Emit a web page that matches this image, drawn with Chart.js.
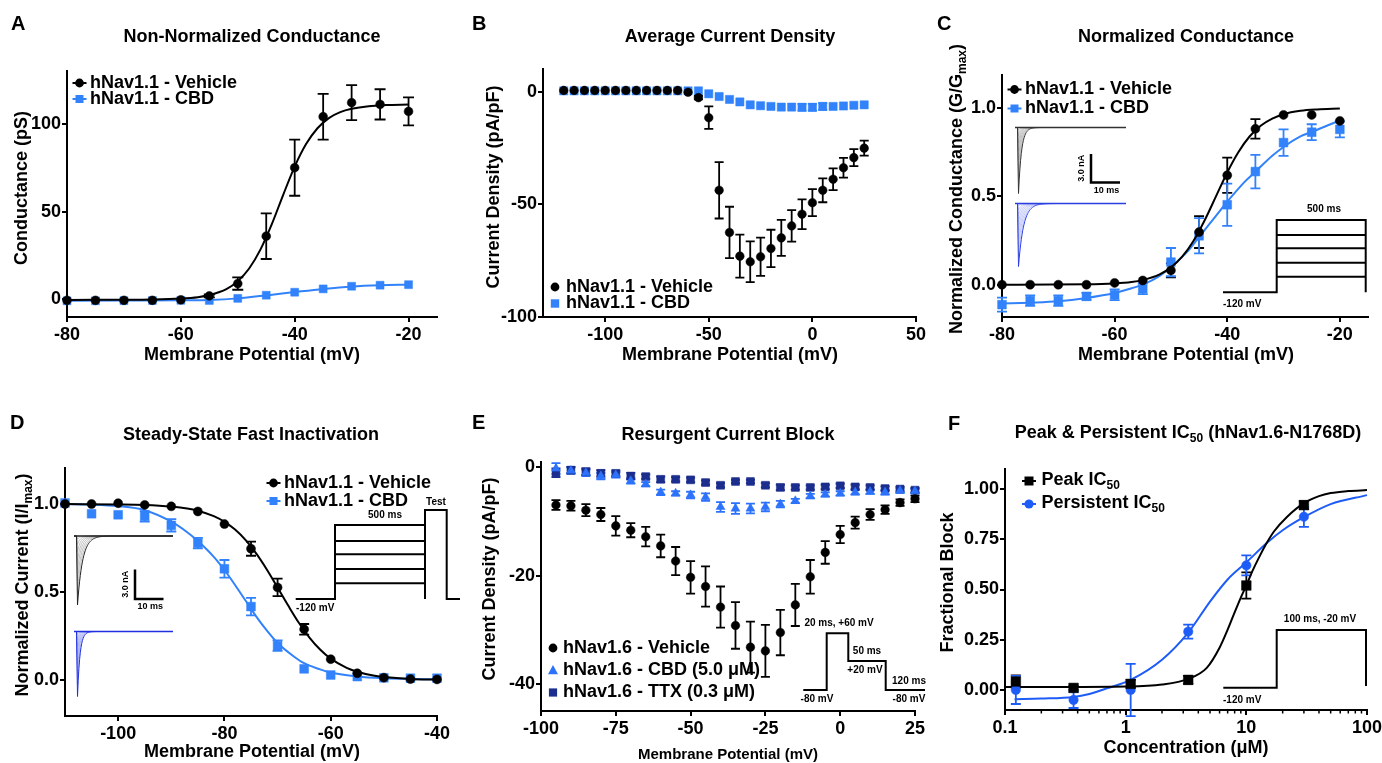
<!DOCTYPE html>
<html><head><meta charset="utf-8">
<script src="https://cdn.jsdelivr.net/npm/chart.js@4.4.1/dist/chart.umd.min.js"></script>
<style>
html,body{margin:0;padding:0;background:#fff;overflow:hidden;width:1382px;height:763px;}
canvas{position:absolute;left:0;top:0;}
</style></head><body>
<canvas id="cA" width="1420" height="763"></canvas>
<canvas id="cB" width="1420" height="763"></canvas>
<canvas id="cC" width="1420" height="763"></canvas>
<canvas id="cD" width="1420" height="763"></canvas>
<canvas id="cE" width="1420" height="763"></canvas>
<canvas id="cF" width="1420" height="763"></canvas>
<script>
// ---------------- DATA ----------------
// Panel A: Non-normalized conductance
const A_X = [-80,-75,-70,-65,-60,-55,-50,-45,-40,-35,-30,-25,-20];
const A_VEH = [-0.5,-0.5,-0.5,-0.5,-0.2,2,9,36,75,104,112,111,107];
const A_VEH_ERR = [0,0,0,0,0,0.8,3.5,13,16,13,10,8.6,8];
const A_CBD = [-0.8,-0.8,-0.7,-0.6,-0.5,-0.6,0.6,2.4,4.1,6.0,7.5,8.1,8.4];
const A_FIT_VEH_X = [-80,-65,-60,-57,-55,-52,-50,-48,-46,-44,-42,-40,-38,-36,-34,-32,-30,-27,-24,-20];
const A_FIT_VEH_Y = [-0.3,0,0.5,1.3,2.5,5.9,10.4,17.6,28.5,43,59.7,75.6,88.4,97.4,103.2,106.6,108.5,110,110.6,110.9];
const A_FIT_CBD_X = [-80,-70,-60,-55,-50,-45,-40,-35,-30,-25,-20];
const A_FIT_CBD_Y = [-0.7,-0.6,-0.5,-0.3,0.6,2.3,4.2,6.0,7.4,8.1,8.4];
const A_XTICKS = [-80,-60,-40,-20], A_XLAB = ['-80','-60','-40','-20'];
const A_YTICKS = [0,50,100], A_YLAB = ['0','50','100'];

// Panel B: Average current density
const B_X = [-120,-115,-110,-105,-100,-95,-90,-85,-80,-75,-70,-65,-60,-55,-50,-45,-40,-35,-30,-25,-20,-15,-10,-5,0,5,10,15,20,25];
const B_VEH = [0.5,0.5,0.5,0.5,0.5,0.5,0.5,0.5,0.5,0.5,0.5,0.5,-0.3,-2.7,-11.6,-43.8,-62.5,-73,-75.5,-73.3,-69.6,-64.9,-59.6,-54.4,-49.3,-43.8,-38.9,-33.8,-29.3,-25.1];
const B_VEH_ERR = [0,0,0,0,0,0,0,0,0,0,0,0,0,0.8,5,12.5,11.4,9.5,9,8.5,8.3,8,7,6.6,6,5.3,4.8,4.4,3.8,3.3];
const B_CBD = [0.3,0.3,0.3,0.3,0.3,0.3,0.3,0.3,0.3,0.3,0.3,0.3,0.3,0.3,-1.0,-2.2,-3.5,-4.6,-5.9,-6.3,-6.6,-6.9,-6.9,-7.0,-7.0,-6.6,-6.6,-6.4,-6.1,-5.9];
const B_CBD_ERR = [0,0,0,0,0,0,0,0,0,0,0,0,0,0,0,0,0,0,0,0,0,0,0,1.5,1.5,1.5,0,0,0,0];
const B_XTICKS = [-100,-50,0,50], B_XLAB = ['-100','-50','0','50'];
const B_YTICKS = [-100,-50,0], B_YLAB = ['-100','-50','0'];

// Panel C: Normalized conductance
const C_X = [-80,-75,-70,-65,-60,-55,-50,-45,-40,-35,-30,-25,-20];
const C_VEH = [0,0,0,0,0.01,0.024,0.081,0.298,0.62,0.883,0.962,0.962,0.928];
const C_VEH_ERR = [0,0,0,0,0,0,0.04,0.09,0.1,0.055,0,0,0];
const C_CBD = [-0.113,-0.09,-0.09,-0.066,-0.057,-0.023,0.128,0.277,0.453,0.641,0.805,0.864,0.88];
const C_CBD_ERR = [0.04,0.03,0.03,0.02,0.03,0.03,0.08,0.1,0.12,0.095,0.075,0.045,0.045];
const C_FIT_VEH_X = [-80,-65,-60,-57,-55,-52,-50,-48,-46,-44,-42,-40,-38,-36,-34,-32,-30,-27,-24,-20];
const C_FIT_VEH_Y = [0,0.002,0.007,0.015,0.026,0.058,0.098,0.159,0.248,0.365,0.5,0.636,0.752,0.841,0.902,0.941,0.966,0.985,0.993,0.998];
const C_FIT_CBD_X = [-80,-75,-70,-65,-60,-57,-55,-52,-50,-47,-45,-42,-40,-37,-35,-32,-30,-27,-25,-22,-20];
const C_FIT_CBD_Y = [-0.107,-0.102,-0.094,-0.075,-0.047,-0.02,0.0,0.05,0.1,0.19,0.27,0.39,0.47,0.58,0.64,0.73,0.78,0.84,0.865,0.905,0.93];
const C_XTICKS = [-80,-60,-40,-20], C_XLAB = ['-80','-60','-40','-20'];
const C_YTICKS = [0,0.5,1], C_YLAB = ['0.0','0.5','1.0'];

// Panel D: Steady-state fast inactivation
const D_X = [-110,-105,-100,-95,-90,-85,-80,-75,-70,-65,-60,-55,-50,-45,-40];
const D_VEH = [1.0,1.0,1.005,0.995,0.987,0.958,0.886,0.746,0.526,0.288,0.118,0.038,0.013,0.005,0.003];
const D_VEH_ERR = [0,0,0,0,0,0,0,0.04,0.05,0.03,0,0,0,0,0];
const D_CBD = [1.006,0.945,0.939,0.93,0.879,0.778,0.632,0.417,0.195,0.063,0.028,0.019,0.012,0.01,0.01];
const D_CBD_ERR = [0,0,0,0.03,0.035,0.03,0.05,0.05,0.03,0,0,0,0,0,0];
const D_FIT_VEH_X = [-110,-100,-95,-90,-87,-85,-82,-80,-78,-76,-74,-72,-70,-68,-66,-64,-62,-60,-57,-55,-52,-50,-45,-40];
const D_FIT_VEH_Y = [1.0,0.998,0.995,0.986,0.975,0.962,0.931,0.899,0.855,0.795,0.718,0.627,0.526,0.423,0.325,0.241,0.173,0.121,0.069,0.047,0.025,0.017,0.006,0.002];
const D_FIT_CBD_X = [-110,-105,-100,-95,-90,-87,-85,-82,-80,-78,-76,-74,-72,-70,-67,-65,-62,-60,-55,-50,-45,-40];
const D_FIT_CBD_Y = [1.0,0.997,0.988,0.965,0.9,0.84,0.79,0.7,0.625,0.54,0.45,0.36,0.28,0.21,0.135,0.095,0.06,0.042,0.02,0.01,0.006,0.004];
const D_XTICKS = [-100,-80,-60,-40], D_XLAB = ['-100','-80','-60','-40'];
const D_YTICKS = [0,0.5,1], D_YLAB = ['0.0','0.5','1.0'];

// Panel E: Resurgent current block
const E_X = [-95,-90,-85,-80,-75,-70,-65,-60,-55,-50,-45,-40,-35,-30,-25,-20,-15,-10,-5,0,5,10,15,20,25];
const E_VEH = [-6.95,-7.1,-7.9,-8.7,-10.8,-11.6,-12.8,-14.5,-17.3,-20.3,-22,-25.8,-29.2,-33.2,-33.9,-30.5,-25.4,-20.2,-15.7,-12.4,-10.2,-8.7,-7.8,-6.5,-5.8];
const E_VEH_ERR = [0.9,0.9,1.1,1.2,1.8,1.3,1.8,2.1,2.6,3,3.7,3.8,4.3,4.7,4.8,4.2,3.9,3.1,2.1,1.6,1.1,1,0.8,0.6,0.6];
const E_CBD = [-0.2,-0.6,-1.0,-1.6,-1.4,-2.5,-3.1,-4.6,-4.8,-5.1,-5.5,-7.3,-7.6,-7.6,-7.3,-6.8,-6.2,-5.3,-5.0,-4.8,-4.6,-4.5,-4.6,-4.3,-4.4];
const E_CBD_ERR = [1.0,0.6,0.6,0.6,0.5,0.5,0.4,0.5,0.4,0.6,0.7,0.9,1.0,0.9,0.8,0.6,0.4,0.4,0.4,0.4,0.4,0.4,0.4,0.4,0.4];
const E_TTX = [-1.0,-0.5,-0.8,-1.1,-1.1,-1.6,-1.7,-2.2,-2.2,-2.3,-2.8,-3.3,-2.6,-2.6,-3.3,-3.7,-3.7,-3.7,-3.6,-3.4,-3.6,-3.7,-3.9,-4.0,-4.2];
const E_TTX_ERR = [0.8,0.6,0.6,0.6,0.5,0.6,0.4,0.5,0.4,0.4,0.4,0.4,0.3,0.3,0.4,0.5,0.4,0.4,0.4,0.4,0.4,0.4,0.4,0.4,0.4];
const E_XTICKS = [-100,-75,-50,-25,0,25], E_XLAB = ['-100','-75','-50','-25','0','25'];
const E_YTICKS = [-40,-20,0], E_YLAB = ['-40','-20','0'];

// Panel F: Peak & persistent IC50
const F_CONC = [0.123,0.37,1.1,3.3,10,30];
const F_PEAK = [0.042,0.01,0.03,0.05,0.52,0.92];
const F_PEAK_ERR = [0.03,0.01,0.02,0.02,0.065,0.02];
const F_PERS = [0.0,-0.05,0.0,0.29,0.62,0.862];
const F_PERS_ERR = [0.07,0.04,0.13,0.035,0.05,0.05];
const F_FIT_PEAK_X = [0.1,0.3,1,2,3.3,4.7,6,7,7.8,9,10,11.4,13,14.7,17,21.6,30,40,50,70,100];
const F_FIT_PEAK_Y = [0.015,0.015,0.017,0.027,0.055,0.11,0.21,0.3,0.37,0.46,0.52,0.6,0.67,0.73,0.79,0.86,0.93,0.965,0.98,0.99,0.995];
const F_FIT_PERS_X = [0.12,0.2,0.37,0.5,0.7,1.1,2,3.3,5,7,10,15,20,30,50,100];
const F_FIT_PERS_Y = [-0.046,-0.043,-0.035,-0.02,0.008,0.05,0.15,0.285,0.44,0.55,0.635,0.735,0.795,0.86,0.925,0.97];
const F_XTICKS = [0.1,1,10,100], F_XLAB = ['0.1','1','10','100'];
const F_YTICKS = [0,0.25,0.5,0.75,1], F_YLAB = ['0.00','0.25','0.50','0.75','1.00'];

// ---------------- STYLE ----------------
const FONT = '"Liberation Sans", Arial, Helvetica, sans-serif';
Chart.defaults.font.family = FONT;
Chart.defaults.color = '#000';
const BLACK = '#000000';
const BLUE = '#3182fb';
const BLUE_F = '#1e5cf7';
const BLUE_E = '#2c72fb';
const NAVY = '#1b2d8d';

function pts(xs, ys, errs, style, r, color, order, capW) {
  return { data: xs.map((x,i)=>({x:x, y:ys[i]})), errors: errs, capW: capW||5, showLine:false,
    pointStyle: style, pointRadius: r, pointBackgroundColor: color, pointBorderColor: color,
    pointBorderWidth: 0.5, borderColor: color, backgroundColor: color, clip:false, order: order };
}
function fit(xs, ys, color, order) {
  return { data: xs.map((x,i)=>({x:x, y:ys[i]})), showLine:true, pointRadius:0, borderColor: color,
    borderWidth: 2, tension: 0.4, cubicInterpolationMode:'monotone', clip:false, order: order, fill:false };
}

const errPlugin = { id:'err', beforeDatasetsDraw(chart) {
  const ctx = chart.ctx, xs = chart.scales.x, ys = chart.scales.y;
  chart.data.datasets.forEach(ds => {
    if (!ds.errors) return;
    ctx.save(); ctx.strokeStyle = ds.borderColor; ctx.lineWidth = 1.8;
    ds.data.forEach((p,i) => {
      const e = ds.errors[i]; if (!e) return;
      const px = xs.getPixelForValue(p.x), y1 = ys.getPixelForValue(p.y+e), y2 = ys.getPixelForValue(p.y-e), hw = ds.capW;
      ctx.beginPath(); ctx.moveTo(px,y1); ctx.lineTo(px,y2);
      ctx.moveTo(px-hw,y1); ctx.lineTo(px+hw,y1); ctx.moveTo(px-hw,y2); ctx.lineTo(px+hw,y2); ctx.stroke();
    });
    ctx.restore();
  });
}};

function txt(ctx, s, x, y, size, align, weight) {
  ctx.save(); ctx.font = (weight||'bold') + ' ' + size + 'px ' + FONT; ctx.fillStyle = '#000';
  ctx.textAlign = align || 'center'; ctx.textBaseline = 'middle'; ctx.fillText(s, x, y); ctx.restore();
}
function rich(ctx, parts, x, y, size, align, rot) {
  ctx.save(); ctx.translate(x, y); if (rot) ctx.rotate(-Math.PI/2);
  const sub = Math.round(size*0.68); let w = 0;
  parts.forEach(p => { ctx.font = 'bold ' + (p.sub?sub:size) + 'px ' + FONT; p.w = ctx.measureText(p.t).width; w += p.w; });
  let cx = align === 'center' ? -w/2 : (align === 'right' ? -w : 0);
  ctx.textBaseline = 'middle'; ctx.textAlign = 'left'; ctx.fillStyle = '#000';
  parts.forEach(p => { ctx.font = 'bold ' + (p.sub?sub:size) + 'px ' + FONT; ctx.fillText(p.t, cx, p.sub ? size*0.33 : 0); cx += p.w; });
  ctx.restore();
}
function mark(ctx, style, x, y, r, color, line) {
  ctx.save(); ctx.fillStyle = color; ctx.strokeStyle = color;
  if (line) { ctx.lineWidth = 2; ctx.beginPath(); ctx.moveTo(x-7,y); ctx.lineTo(x+7,y); ctx.stroke(); }
  ctx.beginPath();
  if (style === 'circle') ctx.arc(x, y, r, 0, 2*Math.PI);
  else if (style === 'rect') ctx.rect(x-r, y-r, 2*r, 2*r);
  else { ctx.moveTo(x, y-r*1.1); ctx.lineTo(x+r, y+r*0.75); ctx.lineTo(x-r, y+r*0.75); ctx.closePath(); }
  ctx.fill(); ctx.restore();
}
function poly(ctx, p, w) {
  ctx.save(); ctx.strokeStyle = '#000'; ctx.lineWidth = w || 2; ctx.lineJoin = 'miter'; ctx.beginPath();
  ctx.moveTo(p[0][0], p[0][1]); for (let i=1;i<p.length;i++) ctx.lineTo(p[i][0], p[i][1]); ctx.stroke(); ctx.restore();
}
// decorative recorded-current inset (illustration, not chart data)
function traces(ctx, x0, x1, base, depth, n, tau, color, faint) {
  ctx.save();
  for (let i=1;i<=n;i++) {
    const d = depth*Math.pow(i/n, 1.5), t = tau*(0.4+0.6*i/n);
    ctx.strokeStyle = i === n ? color : faint; ctx.lineWidth = i === n ? 1 : 0.6;
    ctx.beginPath(); ctx.moveTo(x0, base); ctx.lineTo(x0+2.5, base); ctx.lineTo(x0+3.5, base+d);
    for (let x=x0+3.5; x<=x1; x+=0.7) ctx.lineTo(x, base + d*Math.exp(-(x-x0-3.5)/t));
    ctx.stroke();
  }
  ctx.strokeStyle = color; ctx.lineWidth = 1.6; ctx.beginPath(); ctx.moveTo(x0, base); ctx.lineTo(x1, base); ctx.stroke();
  ctx.restore();
}
function scaleBar(ctx, x, yTop, yBot, xRight) {
  poly(ctx, [[x, yTop],[x, yBot],[xRight, yBot]], 2.5);
  ctx.save(); ctx.translate(x-9, (yTop+yBot)/2); ctx.rotate(-Math.PI/2);
  ctx.font = 'bold 9px ' + FONT; ctx.textAlign = 'center'; ctx.textBaseline = 'middle'; ctx.fillStyle='#000';
  ctx.fillText('3.0 nA', 0, 0); ctx.restore();
  txt(ctx, '10 ms', (x+xRight)/2 + 1, yBot + 8, 9);
}

function makeChart(id, o) {
  const AX = 50, XH = 40, CW = 1420, CH = 763;
  const tickGrid = { drawOnChartArea:false, drawTicks:true, tickLength:5, tickWidth:2, tickColor:'#000', color:'#000', lineWidth:2 };
  return new Chart(document.getElementById(id), {
    type: 'line',
    data: { datasets: o.datasets },
    options: {
      responsive: false, animation: false, events: [],
      layout: { padding: { left: o.area.l - AX, right: CW - o.area.r, top: o.area.t, bottom: CH - o.area.b - XH } },
      plugins: { legend: {display:false}, tooltip: {enabled:false}, title: {display:false} },
      scales: {
        x: { type: o.xType || 'linear', min: o.xMin, max: o.xMax,
          afterBuildTicks: s => { s.ticks = o.xTicks.map(v => ({value: v})); },
          afterFit: s => { s.height = XH; },
          border: { display:true, color:'#000', width:2 }, grid: tickGrid,
          ticks: { autoSkip:false, maxRotation:0, minRotation:0, padding:2, color:'#000', font:{size:18, weight:'bold'},
            callback: (v,i) => o.xLabels[i] } },
        y: { type: 'linear', min: o.yMin, max: o.yMax,
          afterBuildTicks: s => { s.ticks = o.yTicks.map(v => ({value: v})); },
          afterFit: s => { s.width = AX; },
          border: { display:true, color:'#000', width:2 }, grid: tickGrid,
          ticks: { autoSkip:false, padding:1, color:'#000', font:{size:18, weight:'bold'},
            callback: (v,i) => o.yLabels[i] } }
      }
    },
    plugins: [errPlugin, { id:'deco', afterDraw: c => o.deco(c.ctx, c) }]
  });
}

// ---------------- PANEL A ----------------
makeChart('cA', {
  area: {l:67, r:437, t:71, b:317}, xMin:-80, xMax:-15, yMin:-10, yMax:130,
  xTicks:A_XTICKS, xLabels:A_XLAB, yTicks:A_YTICKS, yLabels:A_YLAB,
  datasets: [
    pts(A_X, A_VEH, A_VEH_ERR, 'circle', 4.4, BLACK, 0, 5.5),
    pts(A_X, A_CBD, null, 'rect', 5.6, BLUE, 2, 5),
    fit(A_FIT_VEH_X, A_FIT_VEH_Y, BLACK, 1),
    fit(A_FIT_CBD_X, A_FIT_CBD_Y, BLUE, 3)
  ],
  deco: (ctx) => {
    txt(ctx, 'A', 11, 24, 20, 'left');
    txt(ctx, 'Non-Normalized Conductance', 252, 37, 18);
    rich(ctx, [{t:'Conductance (pS)'}], 22, 188, 18, 'center', true);
    txt(ctx, 'Membrane Potential (mV)', 252, 355, 18);
    mark(ctx, 'circle', 79.5, 83, 4.4, BLACK, true);
    mark(ctx, 'rect', 79.5, 99, 4, BLUE, true);
    txt(ctx, 'hNav1.1 - Vehicle', 90, 83, 18, 'left');
    txt(ctx, 'hNav1.1 - CBD', 90, 99, 18, 'left');
  }
});

// ---------------- PANEL B ----------------
makeChart('cB', {
  area: {l:543, r:916, t:69, b:317}, xMin:-130, xMax:50, yMin:-100, yMax:10,
  xTicks:B_XTICKS, xLabels:B_XLAB, yTicks:B_YTICKS, yLabels:B_YLAB,
  datasets: [
    pts(B_X, B_VEH, B_VEH_ERR, 'circle', 4.3, BLACK, 0, 4.5),
    pts(B_X, B_CBD, B_CBD_ERR, 'rect', 5.8, BLUE, 1, 4.5)
  ],
  deco: (ctx) => {
    txt(ctx, 'B', 472, 24, 20, 'left');
    txt(ctx, 'Average Current Density', 730, 37, 18);
    rich(ctx, [{t:'Current Density (pA/pF)'}], 494, 187, 18, 'center', true);
    txt(ctx, 'Membrane Potential (mV)', 730, 355, 18);
    mark(ctx, 'circle', 555, 287, 4.4, BLACK, false);
    mark(ctx, 'rect', 555, 303.5, 4.2, BLUE, false);
    txt(ctx, 'hNav1.1 - Vehicle', 566, 287, 18, 'left');
    txt(ctx, 'hNav1.1 - CBD', 566, 303.5, 18, 'left');
  }
});

// ---------------- PANEL C ----------------
makeChart('cC', {
  area: {l:1002, r:1368, t:75, b:317}, xMin:-80, xMax:-15, yMin:-0.183, yMax:1.188,
  xTicks:C_XTICKS, xLabels:C_XLAB, yTicks:C_YTICKS, yLabels:C_YLAB,
  datasets: [
    pts(C_X, C_VEH, C_VEH_ERR, 'circle', 4.5, BLACK, 0, 5),
    pts(C_X, C_CBD, C_CBD_ERR, 'rect', 6.2, BLUE, 2, 5),
    fit(C_FIT_VEH_X, C_FIT_VEH_Y, BLACK, 1),
    fit(C_FIT_CBD_X, C_FIT_CBD_Y, BLUE, 3)
  ],
  deco: (ctx) => {
    txt(ctx, 'C', 937, 24, 20, 'left');
    txt(ctx, 'Normalized Conductance', 1186, 37, 18);
    rich(ctx, [{t:'Normalized Conductance (G/G'},{t:'max',sub:true},{t:')'}], 957, 189, 18, 'center', true);
    txt(ctx, 'Membrane Potential (mV)', 1186, 355, 18);
    mark(ctx, 'circle', 1014.5, 89.5, 4.4, BLACK, true);
    mark(ctx, 'rect', 1014.5, 108.5, 4, BLUE, true);
    txt(ctx, 'hNav1.1 - Vehicle', 1025, 89.5, 18, 'left');
    txt(ctx, 'hNav1.1 - CBD', 1025, 108.5, 18, 'left');
    traces(ctx, 1015, 1126, 127.5, 66, 8, 3, '#333', '#9a9a9a');
    traces(ctx, 1015, 1126, 203.5, 63, 9, 5, '#2b3fe0', '#9aa4f2');
    scaleBar(ctx, 1091, 154, 182.5, 1120);
    poly(ctx, [[1223,292.3],[1276.7,292.3],[1276.7,220],[1365.7,220],[1365.7,292.3]], 2);
    [235,248.3,262.7,276.7].forEach(y => poly(ctx, [[1276.7,y],[1365.7,y]], 2));
    txt(ctx, '500 ms', 1324, 209, 10);
    txt(ctx, '-120 mV', 1223, 304, 10, 'left');
  }
});

// ---------------- PANEL D ----------------
makeChart('cD', {
  area: {l:65, r:437, t:468, b:716}, xMin:-110, xMax:-40, yMin:-0.205, yMax:1.205,
  xTicks:D_XTICKS, xLabels:D_XLAB, yTicks:D_YTICKS, yLabels:D_YLAB,
  datasets: [
    pts(D_X, D_VEH, D_VEH_ERR, 'circle', 4.5, BLACK, 0, 5),
    pts(D_X, D_CBD, D_CBD_ERR, 'rect', 6.2, BLUE, 2, 5),
    fit(D_FIT_VEH_X, D_FIT_VEH_Y, BLACK, 1),
    fit(D_FIT_CBD_X, D_FIT_CBD_Y, BLUE, 3)
  ],
  deco: (ctx) => {
    txt(ctx, 'D', 10, 423, 20, 'left');
    txt(ctx, 'Steady-State Fast Inactivation', 251, 435, 18);
    rich(ctx, [{t:'Normalized Current (I/I'},{t:'max',sub:true},{t:')'}], 23, 585, 18, 'center', true);
    txt(ctx, 'Membrane Potential (mV)', 252, 752, 18);
    mark(ctx, 'circle', 273.5, 483, 4.4, BLACK, true);
    mark(ctx, 'rect', 273.5, 501, 4, BLUE, true);
    txt(ctx, 'hNav1.1 - Vehicle', 284, 483, 18, 'left');
    txt(ctx, 'hNav1.1 - CBD', 284, 501, 18, 'left');
    traces(ctx, 74, 173, 536, 69, 8, 5, '#222', '#9a9a9a');
    traces(ctx, 74, 173, 631.5, 65, 8, 2.5, '#1f2fe0', '#8a96f0');
    scaleBar(ctx, 135, 569.5, 599, 163.5);
    poly(ctx, [[295.7,599],[335,599],[335,525],[425,525]], 2);
    [541,554.3,569,583.3].forEach(y => poly(ctx, [[335,y],[425,y]], 2));
    poly(ctx, [[425,599],[425,510],[446.7,510],[446.7,599],[460,599]], 2);
    txt(ctx, '500 ms', 385, 515, 10);
    txt(ctx, 'Test', 436, 502, 10);
    txt(ctx, '-120 mV', 296, 608, 10, 'left');
  }
});

// ---------------- PANEL E ----------------
makeChart('cE', {
  area: {l:541, r:915, t:462, b:711}, xMin:-100, xMax:25, yMin:-45, yMax:1,
  xTicks:E_XTICKS, xLabels:E_XLAB, yTicks:E_YTICKS, yLabels:E_YLAB,
  datasets: [
    pts(E_X, E_VEH, E_VEH_ERR, 'circle', 4.3, BLACK, 0, 4.5),
    pts(E_X, E_CBD, E_CBD_ERR, 'triangle', 5.2, BLUE_E, 1, 4.5),
    pts(E_X, E_TTX, E_TTX_ERR, 'rect', 5.6, NAVY, 2, 4.5)
  ],
  deco: (ctx) => {
    txt(ctx, 'E', 472, 423.5, 20, 'left');
    txt(ctx, 'Resurgent Current Block', 728, 435, 18);
    rich(ctx, [{t:'Current Density (pA/pF)'}], 490.5, 579, 18, 'center', true);
    txt(ctx, 'Membrane Potential (mV)', 728, 755, 15, 'center', 'bold');
    mark(ctx, 'circle', 553, 648, 4.4, BLACK, false);
    mark(ctx, 'triangle', 553, 670.5, 5, BLUE_E, false);
    mark(ctx, 'rect', 553, 692.5, 4.1, NAVY, false);
    txt(ctx, 'hNav1.6 - Vehicle', 563, 648, 18, 'left');
    txt(ctx, 'hNav1.6 - CBD (5.0 \u03BCM)', 563, 670.5, 18, 'left');
    txt(ctx, 'hNav1.6 - TTX (0.3 \u03BCM)', 563, 692.5, 18, 'left');
    poly(ctx, [[803.3,690],[826.7,690],[826.7,633.3],[848.3,633.3],[848.3,661],[885.7,661],[885.7,690],[925,690]], 2);
    txt(ctx, '20 ms, +60 mV', 839, 623, 10);
    txt(ctx, '50 ms', 867, 651, 10);
    txt(ctx, '+20 mV', 865, 670, 10);
    txt(ctx, '120 ms', 909, 681, 10);
    txt(ctx, '-80 mV', 817, 699.5, 10);
    txt(ctx, '-80 mV', 909, 699.5, 10);
  }
});

// ---------------- PANEL F ----------------
makeChart('cF', {
  area: {l:1005, r:1367, t:469, b:710}, xType:'logarithmic', xMin:0.1, xMax:100, yMin:-0.1, yMax:1.1,
  xTicks:F_XTICKS, xLabels:F_XLAB, yTicks:F_YTICKS, yLabels:F_YLAB,
  datasets: [
    pts(F_CONC, F_PEAK, F_PEAK_ERR, 'rect', 6.8, BLACK, 0, 5),
    pts(F_CONC, F_PERS, F_PERS_ERR, 'circle', 4.7, BLUE_F, 1, 5),
    fit(F_FIT_PEAK_X, F_FIT_PEAK_Y, BLACK, 2),
    fit(F_FIT_PERS_X, F_FIT_PERS_Y, BLUE_F, 3)
  ],
  deco: (ctx, c) => {
    const xs = c.scales.x, yb = c.chartArea.bottom;
    ctx.save(); ctx.strokeStyle = '#000'; ctx.lineWidth = 1.5; ctx.beginPath();
    [0.1,1,10].forEach(d => { for (let k=2;k<=9;k++) { const px = xs.getPixelForValue(k*d); ctx.moveTo(px, yb); ctx.lineTo(px, yb+3.5); } });
    ctx.stroke(); ctx.restore();
    txt(ctx, 'F', 948, 424, 20, 'left');
    rich(ctx, [{t:'Peak & Persistent IC'},{t:'50',sub:true},{t:' (hNav1.6-N1768D)'}], 1188, 433, 18, 'center', false);
    rich(ctx, [{t:'Fractional Block'}], 948, 582.5, 18, 'center', true);
    txt(ctx, 'Concentration (\u03BCM)', 1186, 748, 18);
    mark(ctx, 'rect', 1029, 481, 4.5, BLACK, true);
    mark(ctx, 'circle', 1029, 504, 4.6, BLUE_F, true);
    rich(ctx, [{t:'Peak IC'},{t:'50',sub:true}], 1041.5, 480, 18, 'left', false);
    rich(ctx, [{t:'Persistent IC'},{t:'50',sub:true}], 1041.5, 503, 18, 'left', false);
    poly(ctx, [[1223.3,687.7],[1276.7,687.7],[1276.7,630],[1366,630],[1366,686]], 2);
    txt(ctx, '100 ms, -20 mV', 1320, 619, 10);
    txt(ctx, '-120 mV', 1223, 700, 10, 'left');
  }
});
</script>
</body></html>
